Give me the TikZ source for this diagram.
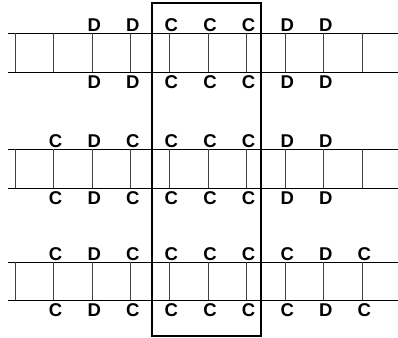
\documentclass[tikz,border=0pt]{standalone}
\usepackage{fontspec}
\setmainfont{Liberation Sans}
\begin{document}
\begin{tikzpicture}[x=1pt,y=-1pt,
  rail/.style={line width=0.9pt,black},
  rung/.style={line width=0.9pt,black!75},
  frame/.style={line width=1.6pt,black},
  toplab/.style={anchor=base,inner sep=0pt,font=\fontsize{18.5}{18.5}\selectfont\bfseries},
  botlab/.style={anchor=base,inner sep=0pt,font=\fontsize{18.5}{18.5}\selectfont\bfseries}]
\useasboundingbox (0,0) rectangle (398,337);
% rows: top line, bottom line
\foreach \r/\yt/\yb/\labs in {1/33/72/{2/D,3/D,4/C,5/C,6/C,7/D,8/D},
                              2/149/188/{1/C,2/D,3/C,4/C,5/C,6/C,7/D,8/D},
                              3/262/300/{1/C,2/D,3/C,4/C,5/C,6/C,7/C,8/D,9/C}}{
  \draw[rail] (8,\yt) -- (398,\yt);
  \draw[rail] (8,\yb) -- (398,\yb);
  \foreach \k in {0,...,9}{
    \pgfmathsetmacro{\xx}{15+38.6*\k}
    \coordinate (t\r-\k) at (\xx,\yt);
    \coordinate (b\r-\k) at (\xx,\yb);
    \draw[rung] (t\r-\k) -- (b\r-\k);
  }
  \foreach \i/\L in \labs{
      \node[toplab] (lt\r-\i) at ([xshift=2pt,yshift=1.5pt]t\r-\i) {\L};
      \node[botlab] (lb\r-\i) at ([xshift=2pt,yshift=-16pt]b\r-\i) {\L};
  }
}
\node[frame,draw,minimum width=109pt,minimum height=333pt,inner sep=0pt,anchor=north west] (box) at (151,2) {};
\end{tikzpicture}
\end{document}
